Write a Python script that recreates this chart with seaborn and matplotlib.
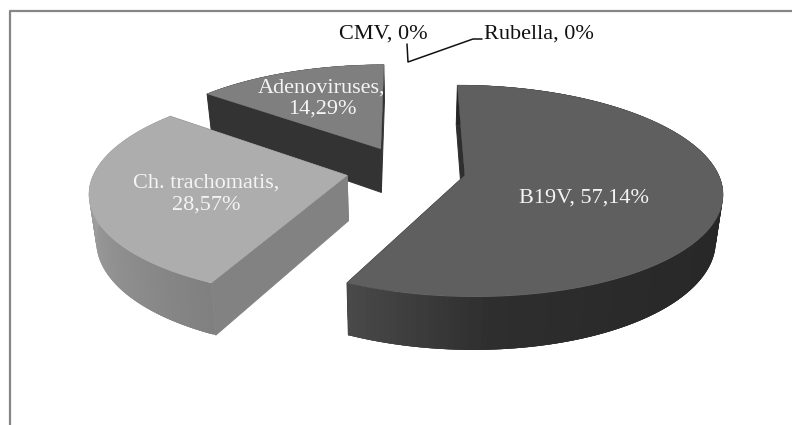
import numpy as np
import matplotlib
matplotlib.use("Agg")
import matplotlib.pyplot as plt
import seaborn as sns

# data
labels = ["B19V", "Ch. trachomatis", "Adenoviruses", "CMV", "Rubella"]
shares = [57.14, 28.57, 14.29, 0.0, 0.0]

# grey styling per slice
top_colors = ["#5f5f5f", "#adadad", "#7f7f7f"]
cut_colors = ["#2e2e2e", "#828282", "#333333"]
arc_ramps = [
    ["#252525", "#252525", "#252525", "#262626", "#282828", "#2a2a2a", "#2e2e2e", "#4a4a4a"],
    ["#808080", "#9c9c9c", "#a6a6a6"],
    ["#333333", "#333333"],
]

# pie plane -> pixel projection
X0, Y0 = 406, 170
RX, RY = 252, 102
PERSP = 0.145
EXPLODE = 0.238
DEPTH = 45
BOTTOM_SHRINK = 0.977


def project(x, y, bottom=False):
    w = 1 + PERSP * y
    px = RX * x / w
    py = Y0 - RY * y / w
    if bottom:
        return X0 + px * BOTTOM_SHRINK, py + DEPTH / w
    return X0 + px, py


def draw_slice(ax, start, end, top_color, cut_color, ramp):
    mid = np.radians((start + end) / 2)
    cx, cy = EXPLODE * np.sin(mid), EXPLODE * np.cos(mid)
    theta = np.radians(np.linspace(start, end, 160))
    xs = cx + np.sin(theta)
    ys = cy + np.cos(theta)

    # flat cut faces first, the wall and top face hide whatever is behind
    for xe, ye in [(xs[0], ys[0]), (xs[-1], ys[-1])]:
        cut_x, cut_y = project(np.array([cx, xe]), np.array([cy, ye]))
        low_x, low_y = project(np.array([cx, xe]), np.array([cy, ye]), bottom=True)
        ax.fill(np.r_[cut_x, low_x[::-1]], np.r_[cut_y, low_y[::-1]], color=cut_color, lw=0.7)

    # outer wall, overlapping quads so no seams show in the gradient
    tx, ty = project(xs, ys)
    bx, by = project(xs, ys, bottom=True)
    colors = sns.blend_palette(ramp, len(xs))
    for i in range(len(xs) - 1):
        j = min(i + 3, len(xs) - 1)
        ax.fill(np.r_[tx[i:j + 1], bx[i:j + 1][::-1]],
                np.r_[ty[i:j + 1], by[i:j + 1][::-1]],
                facecolor=colors[i], edgecolor="none", lw=0)

    ax.fill(np.r_[project(cx, cy)[0], tx], np.r_[project(cx, cy)[1], ty],
            color=top_color, lw=0.3)


sns.set_theme(style="white")
plt.rcParams["font.family"] = ["Liberation Serif", "DejaVu Serif"]

fig = plt.figure(figsize=(7.92, 4.25), dpi=100)
ax = fig.add_axes([0, 0, 1, 1])
ax.set_xlim(0, 792)
ax.set_ylim(425, 0)
ax.axis("off")

# chart frame, cut by the screenshot on the right and bottom
ax.plot([10, 10, 792], [425, 10.5, 10.5], color="#868686", lw=1.6)

# far slice first so the nearer ones overlap it
edges = np.cumsum([0] + shares) / sum(shares) * 360
for i in [2, 1, 0]:
    draw_slice(ax, edges[i], edges[i + 1], top_colors[i], cut_colors[i], arc_ramps[i])

# leader lines of the empty slices
ax.plot([407, 408, 473, 482], [44, 62, 39, 39], color="#111111", lw=1.1)

fs = 16
text_col = "#f4f4f4"
ax.text(584, 198.5, f"{labels[0]}, {shares[0]:.2f}%".replace(".", ","), color=text_col,
        fontsize=fs, ha="center", va="center")
ax.text(206, 194, f"{labels[1]},\n{shares[1]:.2f}%".replace("28.", "28,"), color=text_col,
        fontsize=fs, ha="center", va="center", linespacing=1.2)
ax.text(322, 98.5, f"{labels[2]},\n{shares[2]:.2f}%".replace("14.", "14,"), color=text_col,
        fontsize=fs, ha="center", va="center", linespacing=1.2)
ax.text(383, 34.5, f"{labels[3]}, {shares[3]:.0f}%", color="#111111",
        fontsize=fs, ha="center", va="center")
ax.text(539, 34.5, f"{labels[4]}, {shares[4]:.0f}%", color="#111111",
        fontsize=fs, ha="center", va="center")

fig.savefig("out.png", dpi=100, facecolor="white")
